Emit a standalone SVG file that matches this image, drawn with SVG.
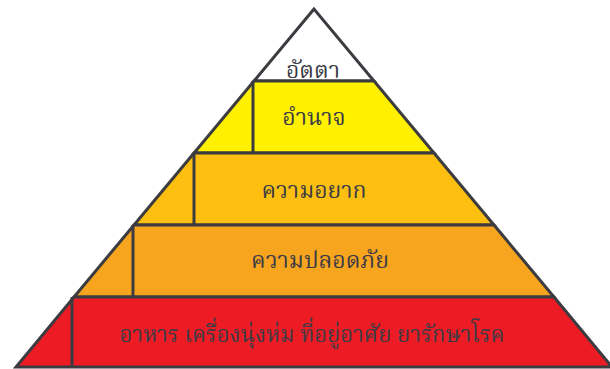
<svg xmlns="http://www.w3.org/2000/svg" width="610" height="369" viewBox="0 0 610 369">
<style>
.lv{stroke:#3b3b40;stroke-width:3;stroke-linejoin:miter}
.dv{stroke:#3b3b40;stroke-width:3;fill:none}
text{font-family:"Noto Serif Thai","Noto Sans Thai Looped","Noto Sans","DejaVu Sans",sans-serif;font-size:23px;fill:#3b3b45;text-anchor:middle}
</style>
<rect width="610" height="369" fill="#ffffff"/>
<g id="level-5">
<polygon class="lv" points="314,9 254,81 374,81" fill="#ffffff"/>
<text x="313" y="78">อัตตา</text>
</g>
<g id="level-4">
<polygon class="lv" points="254,81 374,81 434,153 194,153" fill="#FFF100"/>
<line class="dv" x1="253" y1="81" x2="253" y2="153"/>
<text x="314" y="125">อำนาจ</text>
</g>
<g id="level-3">
<polygon class="lv" points="194,153 434,153 494,225 134,225" fill="#FDC010"/>
<line class="dv" x1="194" y1="153" x2="194" y2="225"/>
<text x="314" y="198">ความอยาก</text>
</g>
<g id="level-2">
<polygon class="lv" points="134,225 494,225 554,297 74,297" fill="#F7A51F"/>
<line class="dv" x1="133" y1="225" x2="133" y2="297"/>
<text x="320" y="268">ความปลอดภัย</text>
</g>
<g id="level-1">
<polygon class="lv" points="74,297 554,297 612,367 16,367" fill="#ED1C24"/>
<line class="dv" x1="72" y1="297" x2="72" y2="367"/>
<text x="312" y="342" textLength="385" lengthAdjust="spacingAndGlyphs">อาหาร เครื่องนุ่งห่ม ที่อยู่อาศัย ยารักษาโรค</text>
</g>
<g id="connectors"></g>
</svg>
